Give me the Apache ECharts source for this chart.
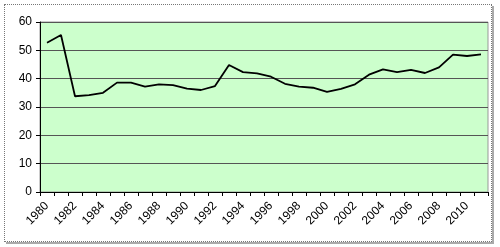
<!DOCTYPE html>
<html>
<head>
<meta charset="utf-8">
<script src="https://cdn.jsdelivr.net/npm/echarts@6/dist/echarts.min.js"></script>
<style>
html,body{margin:0;padding:0;background:#fff;}
#frame{position:absolute;left:4px;top:4px;width:486px;height:236px;border:1px dotted #777;box-shadow:2px 2px 0 #aaa;}
#chart{position:absolute;left:0;top:0;width:500px;height:247px;}
</style>
</head>
<body>
<div id="frame"></div>
<div id="chart"></div>
<script>
var years = ["1980","1981","1982","1983","1984","1985","1986","1987","1988","1989","1990","1991","1992","1993","1994","1995","1996","1997","1998","1999","2000","2001","2002","2003","2004","2005","2006","2007","2008","2009","2010","2011"];
var values = [52.7,55.4,33.8,34.2,35.0,38.6,38.6,37.2,38.0,37.7,36.5,36.0,37.4,44.8,42.3,41.9,40.7,38.2,37.2,36.8,35.3,36.4,38.0,41.4,43.3,42.3,43.1,42.0,44.0,48.5,48.0,48.6];
var yTicks = {min: 0, max: 60, interval: 10};

var chart = echarts.init(document.getElementById('chart'));
chart.setOption({
  animation: false,
  grid: {left: 40, right: 12, top: 22, bottom: 55, show: true, backgroundColor: '#ccffcc', borderColor: '#999', borderWidth: 1},
  xAxis: {
    type: 'category',
    data: years,
    boundaryGap: true,
    axisLine: {lineStyle: {color: '#000', width: 1}},
    axisTick: {show: true, interval: 0, length: 4, lineStyle: {color: '#000'}},
    axisLabel: {interval: 1, rotate: 45, fontFamily: 'Liberation Sans, Arial', fontSize: 12, color: '#000', margin: 12}
  },
  yAxis: {
    type: 'value',
    min: yTicks.min, max: yTicks.max, interval: yTicks.interval,
    axisLine: {show: true, lineStyle: {color: '#000', width: 1}},
    axisTick: {show: true, length: 4, lineStyle: {color: '#000'}},
    axisLabel: {fontFamily: 'Liberation Sans, Arial', fontSize: 12, color: '#000', margin: 8},
    splitLine: {show: true, lineStyle: {color: '#555', width: 1}}
  },
  series: [{
    type: 'line',
    data: values,
    symbol: 'none',
    lineStyle: {color: '#000', width: 1.8},
    z: 3
  }]
});
</script>
</body>
</html>
